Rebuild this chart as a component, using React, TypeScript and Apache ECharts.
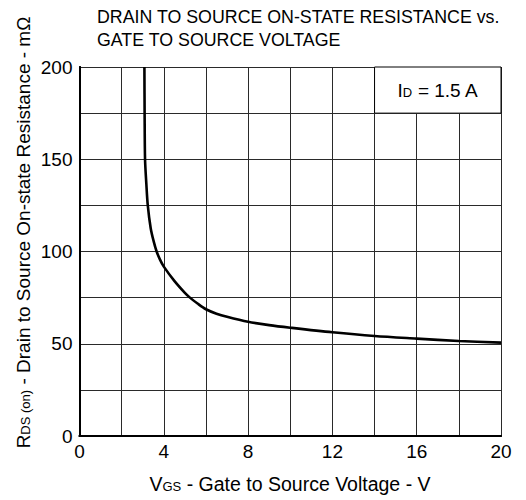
import React, { useEffect, useRef } from "react";
import * as echarts from "echarts";

// ---- data ----
const vgs = [3.08, 3.09, 3.11, 3.17, 3.24, 3.38, 3.52, 3.66, 3.82, 4.0, 4.5, 5.0, 5.24, 5.6, 6.0, 6.5, 7, 8, 9, 10, 12, 14, 16, 18, 20];
const rds = [200, 175, 150, 137, 125, 112.5, 105.5, 100, 95.6, 91.8, 84.1, 77.6, 75, 71.8, 68.7, 66.3, 64.6, 61.9, 60.1, 58.7, 56.2, 54.2, 52.8, 51.5, 50.6];
const xTickLabels = [0, 4, 8, 12, 16, 20];
const yTickLabels = [0, 50, 100, 150, 200];
const idBoxX = [14, 20];
const idBoxY = [175, 200];
const idText = "1.5 A";

const FONT = "'Liberation Sans', Arial, Helvetica, sans-serif";
const FS = 19;
const SUB = 13;

export default function App() {
  const ref = useRef<HTMLDivElement>(null);
  useEffect(() => {
    if (!ref.current) return;
    const chart = echarts.init(ref.current, undefined, { renderer: "svg" });
    const pts = vgs.map((v, i) => [v, rds[i]]);
    const richMain = { fontSize: FS, fontFamily: FONT, color: "#000", lineHeight: 22 };
    const richSub = { fontSize: SUB, fontFamily: FONT, color: "#000", padding: [4, 0, 0, 0] };
    const richMainX = { ...richMain, fontSize: 19.5 };
    const hiddenAxis = {
      axisLabel: { show: false },
      axisTick: { show: false },
      splitLine: { show: false },
      axisLine: { show: true, lineStyle: { color: "#000", width: 2 } },
      z: 5,
    };
    chart.setOption({
      animation: false,
      backgroundColor: "#fff",
      title: {
        text: "DRAIN TO SOURCE ON-STATE RESISTANCE vs.\nGATE TO SOURCE VOLTAGE",
        left: 97,
        top: 5,
        padding: 0,
        textStyle: { fontSize: 17.8, fontWeight: "normal", color: "#000", fontFamily: FONT, lineHeight: 23 },
      },
      grid: { left: 79.5, right: 25, top: 67, bottom: 64, show: false },
      xAxis: [
        {
          type: "value",
          min: 0,
          max: 20,
          interval: 2,
          axisLine: { show: true, onZero: false, lineStyle: { color: "#000", width: 2 } },
          axisTick: { show: false },
          axisLabel: {
            margin: 6,
            fontSize: FS,
            fontFamily: FONT,
            color: "#000",
            formatter: (v: number) => (xTickLabels.includes(v) ? String(v) : ""),
          },
          splitLine: { show: true, lineStyle: { color: "#2a2a2a", width: 1 } },
        },
        { type: "value", position: "top", min: 0, max: 20, ...hiddenAxis },
      ],
      yAxis: [
        {
          type: "value",
          min: 0,
          max: 200,
          interval: 25,
          axisLine: { show: true, onZero: false, lineStyle: { color: "#000", width: 2 } },
          axisTick: { show: false },
          axisLabel: {
            margin: 7,
            fontSize: FS,
            fontFamily: FONT,
            color: "#000",
            formatter: (v: number) => (yTickLabels.includes(v) ? String(v) : ""),
          },
          splitLine: { show: true, lineStyle: { color: "#2a2a2a", width: 1 } },
        },
        { type: "value", position: "right", min: 0, max: 200, ...hiddenAxis },
      ],
      graphic: [
        {
          type: "text",
          x: 290,
          y: 484,
          style: {
            text: "{m|V}{s|GS}{m| - Gate to Source Voltage - V}",
            align: "center",
            verticalAlign: "middle",
            rich: { m: richMainX, s: richSub },
          },
        },
        {
          type: "text",
          x: 23.5,
          y: 232.5,
          rotation: Math.PI / 2,
          style: {
            text: "{m|R}{s|DS (on)}{m| - Drain to Source On-state Resistance - mΩ}",
            align: "center",
            verticalAlign: "middle",
            rich: { m: richMain, s: richSub },
          },
        },
      ],
      series: [
        {
          type: "line",
          data: pts,
          showSymbol: false,
          symbol: "none",
          smooth: 0.3,
          lineStyle: { color: "#000", width: 2.6 },
          markArea: {
            silent: true,
            itemStyle: { color: "#fff", borderColor: "#000", borderWidth: 1, opacity: 1 },
            label: {
              show: true,
              position: "inside",
              formatter: "{m|I}{s|D}{m| = " + idText + "}",
              rich: { m: richMain, s: richSub },
            },
            data: [[{ coord: [idBoxX[0], idBoxY[0]] }, { coord: [idBoxX[1], idBoxY[1]] }]],
          },
        },
      ],
    });
    return () => chart.dispose();
  }, []);
  return <div ref={ref} style={{ position: "fixed", left: 0, top: 0, width: 526, height: 500 }} />;
}
